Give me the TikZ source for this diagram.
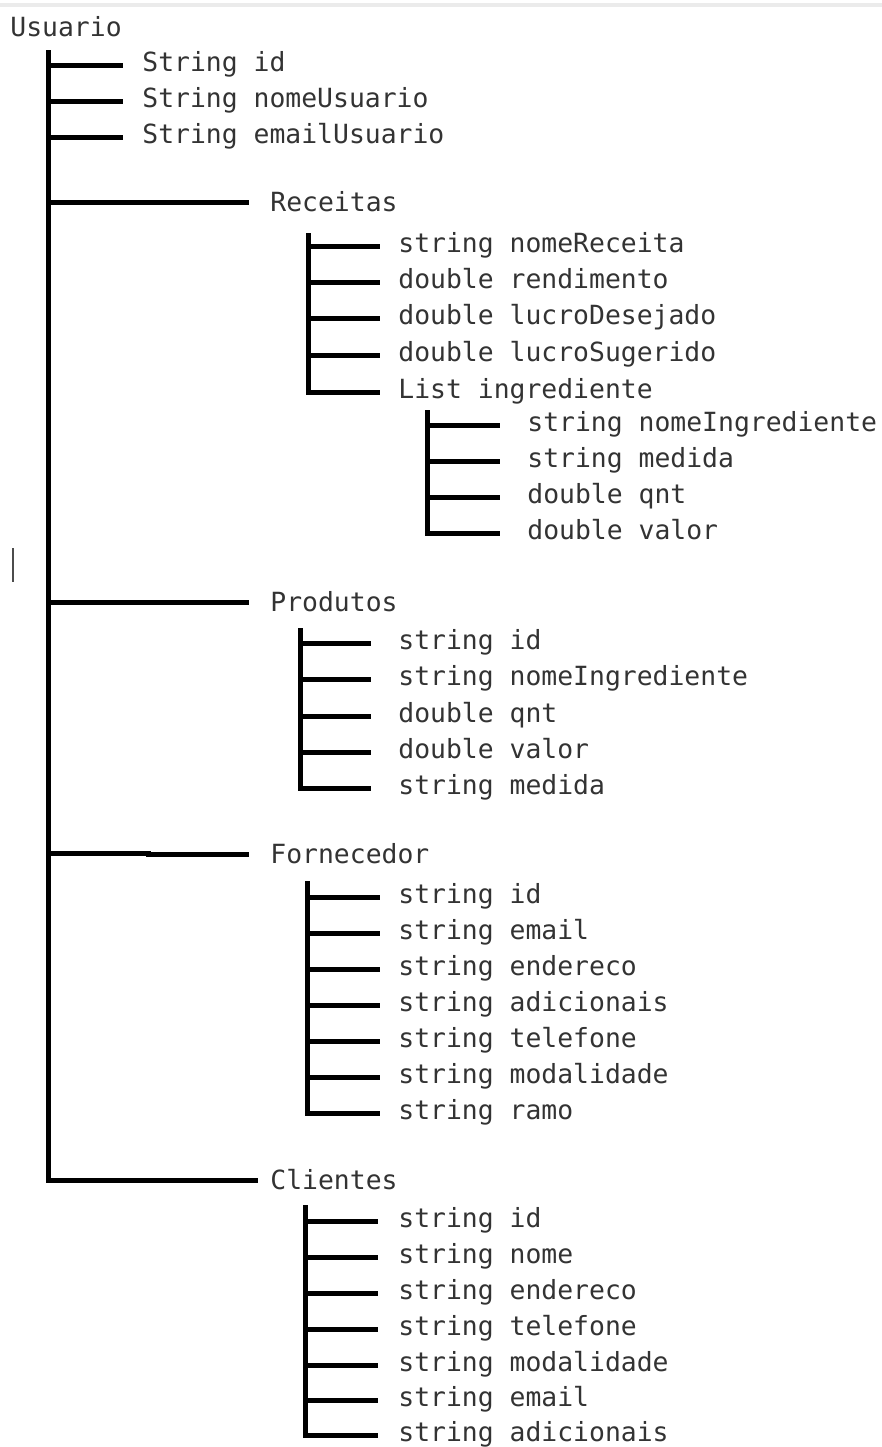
\documentclass[tikz,border=0pt]{standalone}
\usepackage{fontspec}
\setmonofont{DejaVu Sans Mono}
\tikzset{
    tree-line/.style = {line width=2.5pt, line join=miter, line cap=rect, black},
    field-text/.style = {font=\ttfamily\fontsize{13.2}{15}\selectfont, text=black!80, anchor=west, inner sep=0pt, text height=6pt, text depth=0pt},
    head-text/.style = {field-text, text height=9pt},
}
\begin{document}
\begin{tikzpicture}[x=0.5pt, y=-0.5pt]
\useasboundingbox (0,0) rectangle (882,1447);
\draw[black!8, line width=2pt] (0,5) -- (882,5);
\draw[black!70, line width=0.8pt] (13,548) -- (13,582);

% root
\node[field-text] (usuario) at (10,30) {Usuario};
\coordinate (spine) at (48,52);
\node[field-text] (u1) at (142,65) {String id};
\node[field-text] (u2) at (142,101) {String nomeUsuario};
\node[field-text] (u3) at (142,137) {String emailUsuario};
\node[head-text] (receitas) at (270,202) {Receitas};
\node[head-text] (produtos) at (270,602) {Produtos};
\node[head-text] (fornecedor) at (270,854) {Fornecedor};
\node[head-text] (clientes) at (270,1180) {Clientes};

\draw[tree-line] (spine) -- (spine |- clientes.west) -- ([xshift=-7.5pt]clientes.west);
\foreach \n in {u1,u2,u3}
    \draw[tree-line] (spine |- \n.west) -- ([xshift=-11pt]\n.west);
\draw[tree-line] (spine |- receitas.west) -- ([xshift=-12pt]receitas.west);
\draw[tree-line] (spine |- produtos.west) -- ([xshift=-12pt]produtos.west);
\draw[tree-line] ([yshift=0.5pt]spine |- fornecedor.west) -- ++(100,0) coordinate (forn-step);
\draw[tree-line] (forn-step |- fornecedor.west) -- ([xshift=-12pt]fornecedor.west);

% receitas
\coordinate (rc-top) at (308,235);
\foreach \y/\t [count=\i] in {246/string nomeReceita, 282/double rendimento, 318/double lucroDesejado, 355/double lucroSugerido, 392/List ingrediente}
    \node[field-text] (rc\i) at (398,\y) {\t};
\draw[tree-line] (rc-top) -- (rc-top |- rc5.west) -- ([xshift=-10.5pt]rc5.west);
\foreach \i in {1,...,4}
    \draw[tree-line] (rc-top |- rc\i.west) -- ([xshift=-10.5pt]rc\i.west);

% ingredientes
\coordinate (ig-top) at (427,412);
\foreach \y/\t [count=\i] in {425/string nomeIngrediente, 461/string medida, 497/double qnt, 533/double valor}
    \node[field-text] (ig\i) at (527,\y) {\t};
\draw[tree-line] (ig-top) -- (ig-top |- ig4.west) -- ([xshift=-15pt]ig4.west);
\foreach \i in {1,...,3}
    \draw[tree-line] (ig-top |- ig\i.west) -- ([xshift=-15pt]ig\i.west);

% produtos
\coordinate (pd-top) at (300,630);
\foreach \y/\t [count=\i] in {643/string id, 679/string nomeIngrediente, 716/double qnt, 752/double valor, 788/string medida}
    \node[field-text] (pd\i) at (398,\y) {\t};
\draw[tree-line] (pd-top) -- (pd-top |- pd5.west) -- ([xshift=-15pt]pd5.west);
\foreach \i in {1,...,4}
    \draw[tree-line] (pd-top |- pd\i.west) -- ([xshift=-15pt]pd\i.west);

% fornecedor
\coordinate (fn-top) at (307,883);
\foreach \y/\t [count=\i] in {897/string id, 933/string email, 969/string endereco, 1005/string adicionais, 1041/string telefone, 1077/string modalidade, 1113/string ramo}
    \node[field-text] (fn\i) at (398,\y) {\t};
\draw[tree-line] (fn-top) -- (fn-top |- fn7.west) -- ([xshift=-10.5pt]fn7.west);
\foreach \i in {1,...,6}
    \draw[tree-line] (fn-top |- fn\i.west) -- ([xshift=-10.5pt]fn\i.west);

% clientes
\coordinate (cl-top) at (305,1207);
\foreach \y/\t [count=\i] in {1221/string id, 1257/string nome, 1293/string endereco, 1329/string telefone, 1365/string modalidade, 1400/string email, 1435/string adicionais}
    \node[field-text] (cl\i) at (398,\y) {\t};
\draw[tree-line] (cl-top) -- (cl-top |- cl7.west) -- ([xshift=-11.5pt]cl7.west);
\foreach \i in {1,...,6}
    \draw[tree-line] (cl-top |- cl\i.west) -- ([xshift=-11.5pt]cl\i.west);
\end{tikzpicture}
\end{document}
